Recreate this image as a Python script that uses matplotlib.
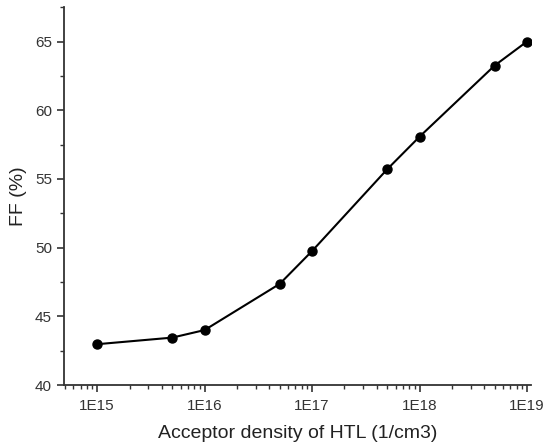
import matplotlib.pyplot as plt
from matplotlib.ticker import LogLocator, NullFormatter, MultipleLocator
import numpy as np

plt.rcParams['font.family'] = ['Liberation Sans', 'DejaVu Sans']

density = [1e15, 5e15, 1e16, 5e16, 1e17, 5e17, 1e18, 5e18, 1e19]
ff = [42.97, 43.45, 44.0, 47.36, 49.75, 55.7, 58.07, 63.25, 65.0]
xtick_vals = [1e15, 1e16, 1e17, 1e18, 1e19]
xtick_labels = ['1E15', '1E16', '1E17', '1E18', '1E19']

fig = plt.figure(figsize=(5.46, 4.48), dpi=100)
ax = fig.add_axes([0.117, 0.1406, 0.8555, 0.8434])

ax.plot(density, ff, '-o', color='black', lw=1.5, markersize=6.5)

ax.set_xscale('log')
ax.set_xlim(4.9e14, 1.09e19)
ax.set_ylim(40, 67.5)

ax.set_xticks(xtick_vals)
ax.set_xticklabels(xtick_labels)
ax.xaxis.set_minor_locator(LogLocator(base=10, subs=np.arange(2, 10)))
ax.xaxis.set_minor_formatter(NullFormatter())
ax.yaxis.set_major_locator(MultipleLocator(5))
ax.yaxis.set_minor_locator(MultipleLocator(2.5))

for s in ['top', 'right']:
    ax.spines[s].set_visible(False)
for s in ['left', 'bottom']:
    ax.spines[s].set_linewidth(1.3)
    ax.spines[s].set_color('#333333')

ax.tick_params(which='major', direction='out', length=5, width=1.2, labelsize=11, colors='#333333')
ax.tick_params(axis='x', which='major', pad=5)
ax.tick_params(which='minor', direction='out', length=3, width=1.0, colors='#333333')

ax.set_xlabel('Acceptor density of HTL (1/cm3)', fontsize=14, color='#222222', labelpad=9)
ax.set_ylabel('FF (%)', fontsize=14, color='#222222', labelpad=6)

fig.savefig('out.png', dpi=100)
